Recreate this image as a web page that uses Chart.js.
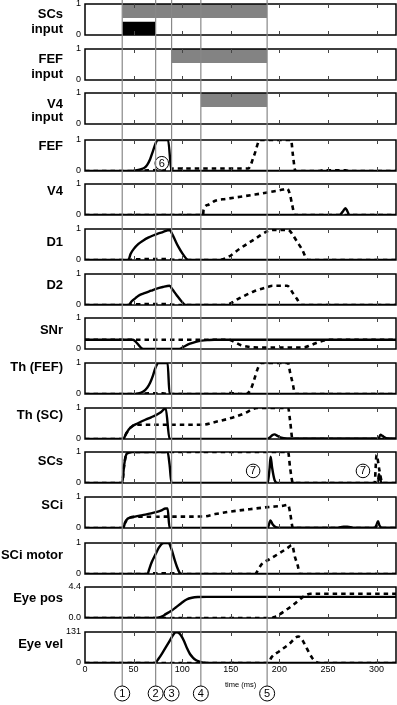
<!DOCTYPE html>
<html>
<head>
<meta charset="utf-8">
<script src="https://cdn.jsdelivr.net/npm/chart.js@4.4.1/dist/chart.umd.min.js"></script>
<style>
  body { margin: 0; background: #fff; }
  #figure { position: relative; width: 397px; height: 705px; overflow: hidden; background: #fff; }
  #figure canvas { position: absolute; left: 0; }
</style>
</head>
<body>
<div id="figure"></div>
<script>
// panel names, y ranges, tick labels
const panelNames = [["SCs", "input"], ["FEF", "input"], ["V4", "input"], ["FEF"], ["V4"], ["D1"], ["D2"],
  ["SNr"], ["Th (FEF)"], ["Th (SC)"], ["SCs"], ["SCi"], ["SCi motor"], ["Eye pos"], ["Eye vel"]];
const yMaxes = [1, 1, 1, 1, 1, 1, 1, 1, 1, 1, 1, 1, 1, 4.4, 131];
const yTickLabels = [["0", "1"], ["0", "1"], ["0", "1"], ["0", "1"], ["0", "1"], ["0", "1"], ["0", "1"],
  ["0", "1"], ["0", "1"], ["0", "1"], ["0", "1"], ["0", "1"], ["0", "1"], ["0.0", "4.4"], ["0", "131"]];
const timeTicks = [0, 50, 100, 150, 200, 250, 300];
const markerTimes = [38.3, 72.7, 89.1, 119.2, 187.4];
const markerText = ["1", "2", "3", "4", "5"];

// input bars: [start ms, end ms, low, high]
const scsInputTarget = [38.3, 187.4, 0.55, 1];
const scsInputFix = [38.3, 72.7, 0, 0.43];
const fefInputBar = [89.1, 187.4, 0.55, 1];
const v4InputBar = [119.2, 187.4, 0.55, 1];

// traces as [ms, value]
const fefSolid = [[0,0],[45,0],[52,0.02],[57,0.05],[61,0.1],[64,0.2],[67,0.38],[70,0.65],[73,0.92],[74.5,1],[85.5,1],[89,0],[320,0]];
const fefDashed = [[0,0],[55,0],[65,0.02],[80,0.03],[88,0.02],[90,0.08],[168,0.08],[174,0.5],[180,1],[212,1],[214,0.5],[216.5,0],[240,0],[245,0.02],[268,0.02],[272,0],[320,0]];
const v4Solid = [[0,0],[262,0],[265,0.1],[268,0.22],[270,0.12],[272,0],[320,0]];
const v4Dashed = [[0,0],[121.5,0],[122,0.17],[127,0.33],[134,0.46],[145,0.52],[160,0.59],[175,0.66],[190,0.74],[204,0.82],[208,0.85],[211,0.65],[213,0.35],[216,0],[320,0]];
const d1Solid = [[0,0],[44.5,0],[47,0.2],[50,0.35],[55,0.52],[60,0.63],[65,0.72],[70,0.79],[75,0.85],[80,0.9],[87,0.97],[90,0.82],[93,0.62],[96,0.43],[100,0.22],[104,0.05],[106,0],[320,0]];
const d1Dashed = [[0,0],[44.5,0],[50,0.02],[85,0.03],[90,0.01],[95,0],[137,0],[147,0.09],[159,0.36],[173,0.64],[188,0.93],[193,0.97],[209,0.97],[214,0.8],[218,0.6],[223,0.36],[229.5,0],[320,0]];
const d2Solid = [[0,0],[45,0],[48,0.12],[52,0.22],[55,0.3],[62,0.39],[68,0.46],[73,0.52],[80,0.58],[87,0.62],[90,0.5],[94,0.33],[99,0.13],[103.5,0],[320,0]];
const d2Dashed = [[0,0],[45,0],[50,0.02],[85,0.03],[90,0.01],[95,0],[144,0],[159,0.22],[173,0.43],[188,0.58],[193,0.62],[208,0.62],[214,0.38],[218,0.2],[222.5,0],[320,0]];
const snrSolid = [[0,0.3],[49,0.3],[60,0],[97,0],[102,0.08],[108,0.17],[114,0.23],[120,0.27],[127,0.29],[133,0.3],[320,0.3]];
const snrDashed = [[0,0.3],[148,0.3],[154,0.22],[160,0.13],[168,0.07],[178,0.05],[225,0.05],[232,0.12],[240,0.22],[248,0.29],[252,0.3],[320,0.3]];
const thFefSolid = [[0,0],[48,0],[55,0.02],[60,0.08],[64,0.2],[67,0.36],[70,0.6],[72,0.8],[74.5,0.98],[75.5,1],[85,1],[87,0],[320,0]];
const thFefDashed = [[0,0],[55,0],[65,0.02],[80,0.02],[86,0],[145,0],[149,0.03],[155,0.02],[160,0],[166,0],[170,0.12],[181.5,1],[209,1],[211,0.7],[214,0.3],[216,0],[320,0]];
const thScSolid = [[0,0],[39.4,0],[42,0.15],[45,0.31],[49,0.42],[54,0.5],[62,0.62],[68,0.7],[73,0.77],[78,0.86],[83,0.99],[87,0],[187,0],[190,0.05],[193,0.13],[195,0.15],[198,0.1],[202,0.04],[208,0.02],[302,0.02],[304,0.14],[306,0.1],[310,0.03],[320,0.02]];
const thScDashed = [[0,0],[39.4,0],[42,0.15],[45,0.31],[49,0.42],[52,0.46],[121,0.46],[134,0.55],[154,0.71],[165,0.84],[173,0.97],[177,1],[209,1],[211,0.6],[213.5,0],[320,0]];
const scsSolid = [[0,0],[38.4,0],[40,0.5],[42,0.88],[44,0.97],[48,1],[85,1],[87,0.6],[89,0],[188,0],[190,0.5],[191,0.85],[192.5,0.5],[195,0.1],[198,0],[301,0],[302.5,0.28],[304,0.1],[305,0],[320,0]];
const scsDashed = [[0,0],[38.4,0],[40,0.5],[42,0.88],[44,0.97],[48,1],[209,1],[211,0.5],[214,0],[298,0],[300,0.9],[303,0.4],[306,0],[320,0]];
const sciSolid = [[0,0],[39.4,0],[41,0.15],[43,0.27],[45,0.32],[50,0.36],[55,0.39],[62,0.43],[68,0.47],[73,0.51],[78,0.56],[83,0.63],[85,0.63],[87,0],[188,0],[190.8,0.24],[193,0.12],[196,0.03],[199,0.01],[260,0.01],[266,0.04],[270,0.04],[276,0.01],[298,0.01],[300,0.1],[301.5,0.22],[303,0.08],[306,0.01],[320,0.01]];
const sciDashed = [[0,0],[39.4,0],[41,0.15],[43,0.27],[45,0.32],[50,0.36],[121,0.37],[134,0.45],[150,0.53],[173,0.62],[190,0.68],[204,0.72],[209,0.75],[211,0.5],[214,0],[320,0]];
const sciMotorSolid = [[0,0],[64.4,0],[66,0.15],[68.5,0.37],[72.6,0.64],[76,0.85],[79,0.97],[81,1],[86,1],[89,0.8],[92,0.48],[95,0.2],[97.5,0.03],[99,0],[320,0]];
const sciMotorDashed = [[0,0],[64,0],[70,0.02],[95,0.02],[99,0],[175,0],[176.5,0.05],[181.6,0.31],[190,0.48],[200,0.67],[208,0.83],[213,0.93],[216,0.55],[219,0.26],[221,0],[320,0]];
const eyePosSolid = [[0,0],[72,0],[76,0.08],[80,0.28],[83,0.55],[88,0.95],[93,1.45],[99,2.1],[104.5,2.63],[110,2.88],[116,2.98],[125,3.0],[320,3.0]];
const eyePosDashed = [[0,0],[192,0],[196,0.2],[200,0.5],[207,1.15],[215,1.95],[222.7,2.82],[228,3.3],[232,3.45],[320,3.45]];
const eyeVelSolid = [[0,0],[72,0],[76,20],[80,45],[84,72],[88,100],[91,120],[93.5,130],[96,129],[99,115],[102,92],[105,62],[108,38],[111,23],[114,13],[118,6],[123,1],[128,0],[320,0]];
const eyeVelDashed = [[0,0],[186,0],[189,3],[192,25],[200,50],[210,80],[219.5,112],[222,106],[226,80],[230,48],[234,20],[238,4],[241,0],[320,0]];

// circled notes inside panels: [ms, value, text]
const fefNotes = [[79, 0.25, "6"]];
const scsNotes = [[173, 0.39, "7"], [286, 0.39, "7"]];

// layout (page pixels)
const panelTops = [4, 49, 93, 140, 184, 229, 274, 318, 363, 408, 452, 497, 543, 587, 632];
const panelHeight = 31;
const nameOffsets = [[10, 25], [10, 25], [11, 24], [6], [7], [13], [11], [12], [4], [7], [9], [8], [12], [11], [12]];

Chart.defaults.font.family = '"Liberation Sans", Arial, sans-serif';
Chart.defaults.color = "#000";

const pts = (pairs) => pairs.map(([x, y]) => ({ x, y }));
const solidLine = (pairs) => ({ data: pts(pairs), borderColor: "#000", borderWidth: 2.4, pointRadius: 0, fill: false, cubicInterpolationMode: "monotone" });
const dashedLine = (pairs) => ({ ...solidLine(pairs), borderWidth: 2.6, borderDash: [4.5, 4] });
const barSet = ([t0, t1, lo, hi], color) => ({ data: [{ x: t0, y: hi }, { x: t1, y: hi }], fill: { value: lo }, backgroundColor: color, borderWidth: 0, pointRadius: 0 });

const panelData = [
  [barSet(scsInputTarget, "#838383"), barSet(scsInputFix, "#000")],
  [barSet(fefInputBar, "#838383")],
  [barSet(v4InputBar, "#838383")],
  [solidLine(fefSolid), dashedLine(fefDashed)],
  [solidLine(v4Solid), dashedLine(v4Dashed)],
  [solidLine(d1Solid), dashedLine(d1Dashed)],
  [solidLine(d2Solid), dashedLine(d2Dashed)],
  [solidLine(snrSolid), dashedLine(snrDashed)],
  [solidLine(thFefSolid), dashedLine(thFefDashed)],
  [solidLine(thScSolid), dashedLine(thScDashed)],
  [solidLine(scsSolid), dashedLine(scsDashed)],
  [solidLine(sciSolid), dashedLine(sciDashed)],
  [solidLine(sciMotorSolid), dashedLine(sciMotorDashed)],
  [solidLine(eyePosSolid), dashedLine(eyePosDashed)],
  [solidLine(eyeVelSolid), dashedLine(eyeVelDashed)],
];
const panelNotes = { 3: fefNotes, 10: scsNotes };

function drawCircled(ctx, x, y, r, txt, size) {
  ctx.beginPath();
  ctx.arc(x, y, r, 0, Math.PI * 2);
  ctx.fillStyle = "#fff";
  ctx.fill();
  ctx.lineWidth = 1;
  ctx.strokeStyle = "#000";
  ctx.stroke();
  ctx.fillStyle = "#000";
  ctx.font = size + 'px "Liberation Sans", Arial, sans-serif';
  ctx.textAlign = "center";
  ctx.textBaseline = "middle";
  ctx.fillText(txt, x, y + 0.5);
}

function makeDecor(i) {
  return {
    id: "decor" + i,
    afterDatasetsDraw(chart) {
      const { ctx, chartArea: a, scales: { x, y } } = chart;
      ctx.save();
      (panelNotes[i] || []).forEach(([t, v, txt]) => drawCircled(ctx, x.getPixelForValue(t), y.getPixelForValue(v), 6.8, txt, 11));
      // panel box
      ctx.strokeStyle = "#000";
      ctx.lineWidth = 1.5;
      ctx.strokeRect(a.left, a.top, a.right - a.left, a.bottom - a.top);
      // inward tick marks top and bottom
      ctx.strokeStyle = "#444";
      ctx.lineWidth = 1;
      ctx.beginPath();
      timeTicks.slice(1).forEach(t => {
        const px = Math.round(x.getPixelForValue(t)) + 0.5;
        ctx.moveTo(px, a.top);
        ctx.lineTo(px, a.top + 4);
        ctx.moveTo(px, a.bottom);
        ctx.lineTo(px, a.bottom - 4);
      });
      ctx.stroke();
      // panel name
      ctx.fillStyle = "#000";
      ctx.font = 'bold 13px "Liberation Sans", Arial, sans-serif';
      ctx.textAlign = "right";
      ctx.textBaseline = "middle";
      panelNames[i].forEach((s, k) => ctx.fillText(s, 63, a.top + nameOffsets[i][k]));
      ctx.restore();
    }
  };
}

const fig = document.getElementById("figure");

panelNames.forEach((name, i) => {
  const last = i === panelNames.length - 1;
  const padTop = 10;
  const padBottom = last ? 0 : 10;
  const axisH = last ? 26 : 0;
  const c = document.createElement("canvas");
  c.width = 397;
  c.height = padTop + panelHeight + padBottom + axisH;
  c.style.top = (panelTops[i] - padTop) + "px";
  fig.appendChild(c);
  new Chart(c, {
    type: "line",
    data: { datasets: panelData[i] },
    options: {
      responsive: false,
      animation: false,
      events: [],
      layout: { padding: { left: 0, right: 1, top: padTop, bottom: padBottom } },
      plugins: { legend: { display: false }, tooltip: { enabled: false } },
      scales: {
        x: {
          type: "linear", min: 0, max: 320, display: last,
          grid: { display: false, drawTicks: false },
          border: { display: false },
          afterBuildTicks: s => { s.ticks = timeTicks.map(v => ({ value: v })); },
          afterFit: s => { s.height = axisH; },
          ticks: { font: { size: 9 }, color: "#000", padding: 1, maxRotation: 0, autoSkip: false },
          title: { display: true, text: "time (ms)", font: { size: 7.5 }, color: "#000", padding: 0 }
        },
        y: {
          type: "linear", min: 0, max: yMaxes[i],
          grid: { display: false, drawTicks: false },
          border: { display: false },
          afterBuildTicks: s => { s.ticks = [{ value: 0 }, { value: yMaxes[i] }]; },
          afterFit: s => { s.width = 85; },
          ticks: { font: { size: 9 }, color: "#000", padding: 4, autoSkip: false, callback: (v, k) => yTickLabels[i][k] }
        }
      }
    },
    plugins: [makeDecor(i)]
  });
});

// overlay: event marker lines and circled numbers
const ov = document.createElement("canvas");
ov.width = 397;
ov.height = 705;
ov.style.top = "0px";
ov.style.pointerEvents = "none";
fig.appendChild(ov);
new Chart(ov, {
  type: "line",
  data: {
    datasets: markerTimes.map(t => ({
      data: [{ x: t, y: 0 }, { x: t, y: 1 }],
      borderColor: "#888", borderWidth: 1.2, pointRadius: 0, fill: false
    }))
  },
  options: {
    responsive: false,
    animation: false,
    events: [],
    layout: { padding: { left: 85, right: 1, top: 0, bottom: 19 } },
    plugins: { legend: { display: false }, tooltip: { enabled: false } },
    scales: {
      x: { type: "linear", min: 0, max: 320, display: false },
      y: { type: "linear", min: 0, max: 1, display: false }
    }
  },
  plugins: [{
    id: "markers",
    afterDatasetsDraw(chart) {
      const { ctx, chartArea: a, scales: { x } } = chart;
      ctx.save();
      markerTimes.forEach((t, k) => drawCircled(ctx, x.getPixelForValue(t), a.bottom + 7.5, 7.5, markerText[k], 11));
      ctx.restore();
    }
  }]
});
</script>
</body>
</html>
